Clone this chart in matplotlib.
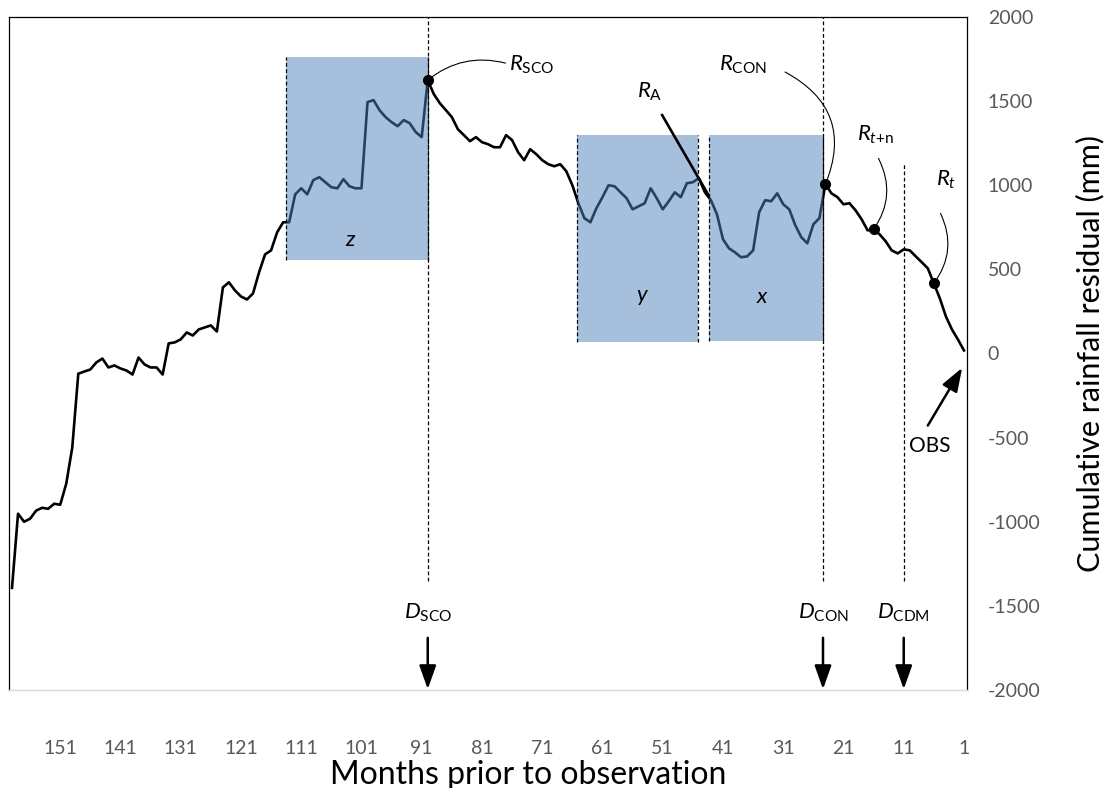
import numpy as np
import matplotlib
matplotlib.use("Agg")
import matplotlib.pyplot as plt
from matplotlib.patches import Rectangle

# === Fonts ===
plt.rcParams['font.family'] = ['Lato', 'DejaVu Sans']
plt.rcParams['mathtext.fontset'] = 'custom'
plt.rcParams['mathtext.rm'] = 'Lato'
plt.rcParams['mathtext.it'] = 'Lato:italic'
plt.rcParams['mathtext.bf'] = 'Lato:bold'

# === Data: cumulative rainfall residual (mm), month 159 -> month 1 ===
resid = [
    -1393, -952, -1000, -982, -934, -917, -923, -893, -899, -774,      # 159-150
    -559, -120, -107, -95, -53, -30, -83, -71, -89, -101,              # 149-140
    -125, -24, -65, -83, -83, -125, 60, 66, 84, 125,                   # 139-130
    107, 143, 155, 167, 131, 393, 423, 375, 339, 321,                  # 129-120
    357, 482, 589, 613, 720, 780, 780, 946, 982, 946,                  # 119-110
    1030, 1048, 1018, 988, 982, 1036, 994, 982, 982, 1494,             # 109-100
    1506, 1446, 1405, 1375, 1351, 1387, 1369, 1316, 1286, 1625,        # 99-90
    1542, 1488, 1446, 1405, 1333, 1298, 1262, 1286, 1256, 1244,        # 89-80
    1226, 1226, 1298, 1268, 1196, 1149, 1214, 1185, 1149, 1125,        # 79-70
    1113, 1125, 1083, 1000, 893, 804, 780, 864, 929, 1000,             # 69-60
    994, 958, 923, 857, 875, 893, 982, 923, 857, 905,                  # 59-50
    958, 929, 1012, 1018, 1042, 958, 911, 827, 679, 625,               # 49-40
    601, 572, 577, 613, 839, 911, 905, 952, 887, 857,                  # 39-30
    762, 691, 655, 768, 804, 1006, 952, 929, 887, 893,                 # 29-20
    851, 798, 732, 738, 708, 667, 613, 595, 619, 613,                  # 19-10
    577, 542, 506, 417, 327, 220, 143, 83, 18,                         # 9-1
]
months = np.arange(len(resid), 0, -1)
series = dict(zip(months, resid))

xticks = [151, 141, 131, 121, 111, 101, 91, 81, 71, 61, 51, 41, 31, 21, 11, 1]
yticks = [-2000, -1500, -1000, -500, 0, 500, 1000, 1500, 2000]

# shaded windows: (label, start month, end month, bottom, top)
windows = [
    ('z', 113.5, 90.0, 554, 1762),
    ('y', 65.3, 45.1, 71, 1298),
    ('x', 43.4, 24.4, 77, 1298),
]
window_label_pos = {'z': (102.8, 673), 'y': (54.4, 333), 'x': (34.5, 333)}

# key dates (month) and the top of their dashed marker
dates = [
    (r'$D_{\mathrm{SCO}}$', 90.0, 2000),
    (r'$D_{\mathrm{CON}}$', 24.4, 2000),
    (r'$D_{\mathrm{CDM}}$', 11.0, 1131),
]

# marked residual points (month of the point, label, label pos, connector start, bend)
points = [
    (90, r'$R_{\mathrm{SCO}}$', (76.5, 1714), (77.1, 1726), 0.25),
    (24, r'$R_{\mathrm{CON}}$', (41.6, 1714), (30.7, 1673), -0.45),
    (16, r'$R_{t\mathrm{+n}}$', (18.8, 1298), (15.2, 1160), -0.3),
    (6, r'$R_t$', (5.6, 1030), (4.9, 833), -0.3),
]

arrow_head = '-|>,head_length=0.9,head_width=0.32'

# === Plot ===
fig = plt.figure(figsize=(11.18, 7.88), dpi=100)
ax = fig.add_axes([9 / 1118, 98 / 788, 958 / 1118, 673 / 788])

ax.plot(months, resid, color='black', lw=1.9, zorder=2, solid_joinstyle='round')

for name, m0, m1, lo, hi in windows:
    ax.add_patch(Rectangle((m1, lo), m0 - m1, hi - lo, facecolor='#4f81bd',
                           alpha=0.5, edgecolor='none', zorder=3))
    ax.vlines([m0, m1], lo, hi, colors='black', linestyles=(0, (3, 2)), lw=0.9, zorder=4)
    lx, ly = window_label_pos[name]
    ax.text(lx, ly, '$' + name + '$', fontsize=16, ha='center', va='center', zorder=5)

for lab, m, top in dates:
    ax.vlines(m, -1351, top, colors='black', linestyles=(0, (3, 2)), lw=0.9, zorder=4)
    ax.text(m, -1541, lab, fontsize=16, ha='center', va='center')
    ax.annotate('', xy=(m, -1995), xytext=(m, -1690),
                arrowprops=dict(arrowstyle=arrow_head, color='black', lw=1.8,
                                mutation_scale=16, shrinkA=0, shrinkB=0), zorder=5)

for m, lab, lpos, cstart, rad in points:
    v = series[m]
    ax.plot([m], [v], 'o', color='black', ms=7, zorder=6)
    ax.text(lpos[0], lpos[1], lab, fontsize=16, ha='left', va='center')
    ax.annotate('', xy=(m, v), xytext=cstart,
                arrowprops=dict(arrowstyle='-', color='black', lw=0.8,
                                connectionstyle='arc3,rad=%s' % rad,
                                shrinkA=0, shrinkB=0), zorder=6)

# R_A marker line
ax.text(55.2, 1554, r'$R_{\mathrm{A}}$', fontsize=16, ha='left', va='center')
ax.plot([51.1, 43.4], [1417, 941], color='black', lw=1.9, zorder=6)

# OBS arrow
ax.text(6.6, -547, 'OBS', fontsize=15, ha='center', va='center')
ax.annotate('', xy=(1.3, -85), xytext=(7.0, -428),
            arrowprops=dict(arrowstyle=arrow_head, color='black', lw=1.8,
                            mutation_scale=16, shrinkA=0, shrinkB=0), zorder=6)

# === Axes styling ===
ax.set_xlim(159.5, 0.5)
ax.set_ylim(-2000, 2000)
ax.set_xticks(xticks)
ax.set_xticklabels([str(t) for t in xticks])
ax.yaxis.tick_right()
ax.set_yticks(yticks)
ax.set_yticklabels([str(t) for t in yticks])
ax.tick_params(axis='x', length=0, pad=36, labelsize=14, labelcolor='#595959')
ax.tick_params(axis='y', length=0, pad=15, labelsize=14, labelcolor='#595959')

for s in ['left', 'right', 'top']:
    ax.spines[s].set_color('black')
    ax.spines[s].set_linewidth(0.9)
ax.spines['bottom'].set_color('#d9d9d9')
ax.spines['bottom'].set_linewidth(1.0)

ax.set_xlabel('Months prior to observation', fontsize=23)
ax.xaxis.set_label_coords(0.542, -0.104)
ax.yaxis.set_label_position('right')
ax.set_ylabel('Cumulative rainfall residual (mm)', fontsize=22)
ax.yaxis.set_label_coords(1.114, 0.5)

fig.savefig('out.png', dpi=100)
